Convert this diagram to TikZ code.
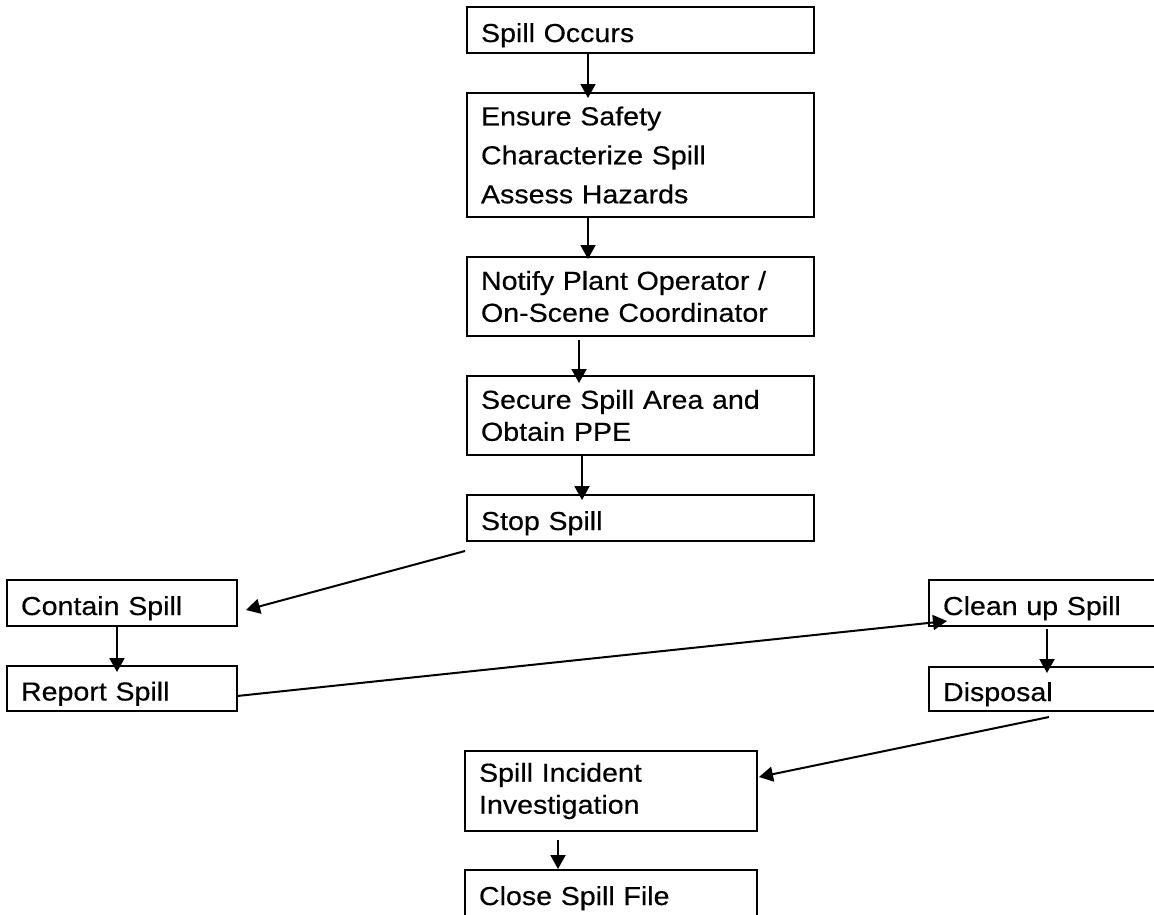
\documentclass[tikz,border=0pt]{standalone}
\usepackage{fontspec}
\setmainfont{Liberation Sans}[FakeStretch=1.1,FakeBold=0.4]
\usetikzlibrary{arrows.meta}
\begin{document}
\begin{tikzpicture}[x=1pt,y=-1pt,
  box/.style={draw, line width=2pt, rectangle, anchor=north west, outer sep=0pt,
    inner xsep=14pt, inner ysep=0pt, align=left, font=\fontsize{26}{32}\selectfont},
  oneline/.style={text height=24pt, text depth=0pt},
  arr/.style={line width=2pt, -{Triangle[length=14pt,width=15pt]}}]
\useasboundingbox (0,0) rectangle (1154,914);
\clip (0,0) rectangle (1154,914);
\fill[white] (0,0) rectangle (1154,914);
% central column
\node[box, oneline, text width=319pt, minimum height=46pt] (occ) at (467,7) {Spill Occurs};
\node[box, text width=319pt, minimum height=124pt] (ens) at (467,93) {Ensure Safety\\[7pt]Characterize Spill\\[7pt]Assess Hazards};
\node[box, text width=319pt, minimum height=79pt] (not) at (467,257) {Notify Plant Operator /\\On-Scene Coordinator};
\node[box, text width=319pt, minimum height=79pt] (sec) at (467,376) {Secure Spill Area and\\Obtain PPE};
\node[box, oneline, text width=319pt, minimum height=46pt] (stop) at (467,495) {Stop Spill};
% left
\node[box, oneline, text width=202pt, minimum height=46pt] (cont) at (7,580) {Contain Spill};
\node[box, oneline, text width=202pt, minimum height=45pt] (rep) at (7,666) {Report Spill};
% right
\node[box, oneline, text width=213pt, minimum height=46pt] (clean) at (929,580) {Clean up Spill};
\node[box, oneline, text width=213pt, minimum height=44pt] (disp) at (929,667) {Disposal};
% bottom
\node[box, text width=264pt, minimum height=80pt] (inc) at (465,751) {Spill Incident\\Investigation};
\node[box, oneline, text width=264pt, minimum height=46pt] (close) at (465,870) {Close Spill File};
% connectors
\draw[arr] ([xshift=-52.5pt]occ.south) -- ([xshift=-52.5pt,yshift=-5pt]ens.north);
\draw[arr] ([xshift=-52.5pt]ens.south) -- ([xshift=-52.5pt,yshift=-2pt]not.north);
\draw[arr] ([xshift=-61.5pt,yshift=-4pt]not.south) -- ([xshift=-61.5pt,yshift=-7pt]sec.north);
\draw[arr] ([xshift=-58.5pt]sec.south) -- ([xshift=-58.5pt,yshift=-5pt]stop.north);
\draw[arr] ([xshift=-2pt,yshift=-10pt]stop.south west) -- ([xshift=9pt,yshift=-7pt]cont.east);
\draw[arr] ([xshift=-5pt]cont.south) -- ([xshift=-5pt,yshift=-6pt]rep.north);
\draw[arr] ([yshift=-7.5pt]rep.east) -- ([xshift=18pt,yshift=-18pt]clean.west);
\draw[arr] ([xshift=-2.5pt,yshift=-3pt]clean.south) -- ([xshift=-2.5pt,yshift=-6pt]disp.north);
\draw[arr] ([xshift=-0.5pt,yshift=-6pt]disp.south) -- ([xshift=2pt,yshift=14pt]inc.east);
\draw[arr] ([xshift=-53pt,yshift=-9pt]inc.south) -- ([xshift=-53pt,yshift=1pt]close.north);
\end{tikzpicture}
\end{document}
